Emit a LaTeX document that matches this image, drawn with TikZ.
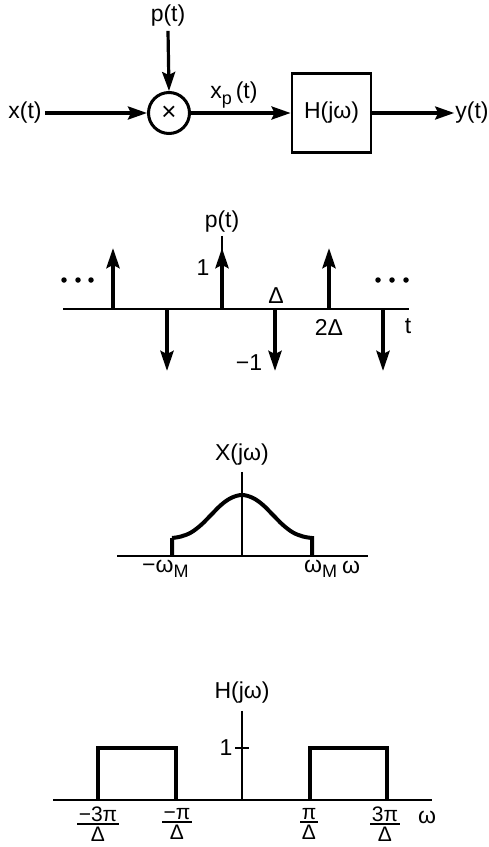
\documentclass[tikz,border=0pt]{standalone}
\usepackage{fontspec}
\setmainfont{Liberation Sans}
\usetikzlibrary{arrows.meta}
\newcommand\myfr[2]{\vbox{\halign{\hfil\kern1.5pt##\kern1.5pt\hfil\cr #1\cr\noalign{\kern1.5pt\hrule height1.7pt\kern2pt}#2\cr}}}
\newcommand\sub[1]{\raisebox{-0.45ex}{\fontsize{18}{18}\selectfont #1}}
\tikzset{
  lbl/.style={font=\fontsize{23}{27}\selectfont, inner sep=1pt},
  frl/.style={font=\fontsize{21}{23}\selectfont, inner sep=0pt},
  arr/.style={line width=3.2pt, -{Stealth[length=19pt,width=13pt,inset=3pt]}},
  imp/.style={line width=4pt, -{Stealth[length=20pt,width=13pt,inset=3pt]}},
  axisline/.style={line width=1.8pt},
  thinaxis/.style={line width=1.4pt},
  thk/.style={line width=4pt, line join=miter},
  dot/.style={circle, fill, inner sep=0pt, minimum size=5.5pt}
}
\begin{document}
\begin{tikzpicture}[x=1pt,y=-1pt]
\useasboundingbox (0,0) rectangle (488,847);
% ---- block diagram ----
\node[lbl] (xt) at (25,113) {x(t)};
\node[lbl] (pt) at (168,16) {p(t)};
\node[circle, draw, line width=3pt, minimum size=41pt, inner sep=0pt, font=\fontsize{26}{28}\selectfont] (mul) at (169,113) {×};
\node[draw, line width=2.8pt, minimum width=79pt, minimum height=79pt, lbl] (H) at (331.5,113) {H(jω)};
\node[lbl] (yt) at (472,113) {y(t)};
\node[lbl] (xp) at (234,95) {x\sub{p}\,(t)};
\draw[arr] (xt.east) ++(2,0) coordinate (xs) (xs) -- (mul.west);
\draw[arr] (pt.south) ++(0,3) coordinate (ps) (ps) -- (mul.north);
\draw[arr] (mul.east) -- (H.west);
\draw[arr] (H.east) -- (yt.west);
% ---- p(t) impulse train ----
\draw[axisline] (63,309) coordinate (pa0) -- (409,309) coordinate (pa1);
\node[lbl] (plab) at (222,222) {p(t)};
\draw[thinaxis] (plab.south) ++(0,2) coordinate (pv0) (pv0) -- (222,309);
\foreach \x in {113,222,329} \draw[imp] (\x,309) -- (\x,248);
\foreach \x in {167,275,383} \draw[imp] (\x,309) -- (\x,371);
\node[lbl] (one) at (203,268) {1};
\node[lbl] (del) at (276,296) {Δ};
\node[lbl] (tdel) at (329,327) {2Δ};
\node[lbl] (tt) at (408,326) {t};
\node[lbl] (mone) at (249,363) {−1};
\foreach \x in {64,78,91,378,392,406} \node[dot] at (\x,280) {};
% ---- X(jw) ----
\draw[axisline] (117,556) -- (368,556);
\node[lbl] (xlab) at (242,455) {X(jω)};
\draw[thinaxis] (xlab.south) ++(0,5) coordinate (xv0) (xv0) -- (242,556);
\draw[thk] (172,556) -- (172,538)
  plot[smooth, tension=0.6] coordinates {(172,538) (181,536.5) (191,532.5) (201,525) (211,515) (221,505) (231,498) (242,495) (253,498) (263,505) (273,515) (283,525) (293,532.5) (303,536.5) (312,538)}
  -- (312,556);
\node[lbl, anchor=west] (wm1) at (141,569) {−ω\sub{M}};
\node[lbl, anchor=west] (wm2) at (303,569) {ω\sub{M}};
\node[lbl, anchor=west] (w1) at (341,567) {ω};
% ---- H(jw) ----
\draw[axisline] (53,800) -- (432,800);
\node[lbl] (hlab) at (242,693) {H(jω)};
\draw[thinaxis] (hlab.south) ++(0,6) coordinate (hv0) (hv0) -- (242,800);
\draw[thinaxis] (235,748) -- (249,748);
\node[lbl] (hone) at (226,748) {1};
\draw[thk] (98,800) -- (98,748) -- (176,748) -- (176,800);
\draw[thk] (310,800) -- (310,748) -- (387,748) -- (387,800);
\node[frl] (f1) at (98,824) {\myfr{−3π}{Δ}};
\node[frl] (f2) at (177,824) {\myfr{−π}{Δ}};
\node[frl] (f3) at (309,824) {\myfr{π}{Δ}};
\node[frl] (f4) at (385,824) {\myfr{3π}{Δ}};
\node[lbl] (w2) at (427,817) {ω};
\end{tikzpicture}
\end{document}
